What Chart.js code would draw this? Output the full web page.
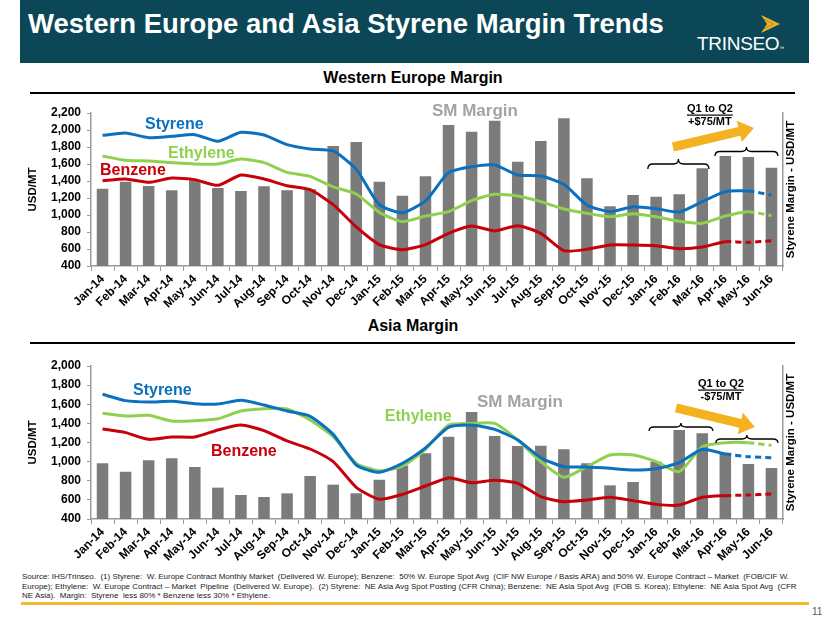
<!DOCTYPE html>
<html>
<head>
<meta charset="utf-8">
<script src="https://cdn.jsdelivr.net/npm/chart.js@4.4.1/dist/chart.umd.min.js"></script>
<style>
  body { margin: 0; width: 830px; height: 623px; background: #fff; position: relative; overflow: hidden;
         font-family: 'Liberation Sans', Arial, sans-serif; }
  .titlebar { position: absolute; left: 20px; top: 0; width: 789px; height: 63px; background: #0b4756; }
  .titlebar h1 { position: absolute; left: 8px; top: 8.5px; margin: 0; font-size: 27.5px; line-height: 30px;
                 font-weight: bold; color: #fff; white-space: nowrap; }
  .logo { position: absolute; left: 677px; top: 33px; font-size: 19px; line-height: 22px; color: #fff; letter-spacing: -0.3px; }
  .logo sup { font-size: 5px; vertical-align: 0; }
  .head { position: absolute; left: 0; width: 826px; text-align: center; font-size: 16px; line-height: 18px;
          font-weight: bold; color: #000; }
  .rule { position: absolute; left: 30px; width: 765px; height: 2px; background: #000; }
  canvas { position: absolute; left: 0; }
  .foot { position: absolute; left: 22px; top: 572px; font-size: 8px; line-height: 9.5px; color: #222; white-space: nowrap; }
  .orange { position: absolute; left: 21px; top: 602px; width: 788px; height: 2.5px; background: #f5b82e; }
  .pg { position: absolute; left: 812px; top: 606px; font-size: 10px; color: #595959; }
</style>
</head>
<body>
<div class="titlebar">
  <h1>Western Europe and Asia Styrene Margin Trends</h1>
  <svg style="position:absolute; left:740px; top:14px" width="22" height="20">
    <polygon points="1,1 20,10 1,19 7,10" fill="#e9b42b"/>
    <polyline points="4,5 13,10 4,15" fill="none" stroke="#b98a17" stroke-width="1"/>
  </svg>
  <div class="logo">TRINSEO<sup>™</sup></div>
</div>
<div class="head" style="top:69px">Western Europe Margin</div>
<div class="rule" style="top:92px"></div>
<canvas id="weChart" width="830" height="215" style="top:100px"></canvas>
<div class="head" style="top:317px">Asia Margin</div>
<div class="rule" style="top:342px"></div>
<canvas id="asiaChart" width="830" height="218" style="top:350px"></canvas>
<div class="foot">
Source: IHS/Trinseo.&nbsp; (1) Styrene:&nbsp; W. Europe Contract Monthly Market&nbsp; (Delivered W. Europe); Benzene:&nbsp; 50% W. Europe Spot Avg&nbsp; (CIF NW Europe / Basis ARA) and 50% W. Europe Contract – Market&nbsp; (FOB/CIF W.<br>
Europe); Ethylene:&nbsp; W. Europe Contract – Market&nbsp; Pipeline&nbsp; (Delivered W. Europe).&nbsp; (2) Styrene:&nbsp; NE Asia Avg Spot Posting (CFR China); Benzene:&nbsp; NE Asia Spot Avg&nbsp; (FOB S. Korea); Ethylene:&nbsp; NE Asia Spot Avg&nbsp; (CFR<br>
NE Asia).&nbsp; Margin:&nbsp; Styrene&nbsp; less 80% * Benzene less 30% * Ethylene.
</div>
<div class="orange"></div>
<div class="pg">11</div>

<script>
// categories
const months = ['Jan-14','Feb-14','Mar-14','Apr-14','May-14','Jun-14','Jul-14','Aug-14','Sep-14','Oct-14','Nov-14','Dec-14',
                'Jan-15','Feb-15','Mar-15','Apr-15','May-15','Jun-15','Jul-15','Aug-15','Sep-15','Oct-15','Nov-15','Dec-15',
                'Jan-16','Feb-16','Mar-16','Apr-16','May-16','Jun-16'];

// Western Europe (USD/MT)
const weMargin   = [1310,1390,1341,1290,1410,1317,1282,1337,1290,1302,1812,1859,1390,1227,1455,2059,1980,2109,1627,1871,2137,1432,1102,1235,1216,1243,1549,1694,1682,1557];
const weStyrene  = [1937,1965,1910,1926,1945,1867,1973,1941,1828,1777,1753,1537,1122,1027,1165,1498,1568,1588,1471,1459,1361,1118,1039,1098,1075,1035,1157,1275,1282,1235];
const weEthylene = [1694,1643,1635,1616,1600,1600,1659,1616,1502,1455,1330,1247,1031,922,988,1039,1169,1243,1224,1157,1071,1020,980,1016,980,926,902,988,1039,992];
const weBenzene  = [1404,1424,1384,1435,1416,1349,1471,1424,1345,1298,1122,859,651,592,651,784,870,812,874,784,580,596,647,647,639,604,624,686,678,698];

// Asia (USD/MT)
const asiaMargin   = [982,895,1014,1034,944,728,651,630,668,850,759,668,811,960,1087,1261,1519,1268,1163,1167,1129,982,752,787,1000,1331,1296,1094,975,933];
const asiaStyrene  = [1704,1638,1624,1631,1606,1603,1641,1592,1529,1474,1285,965,888,982,1143,1359,1383,1338,1226,1041,947,944,930,912,926,989,1129,1080,1052,1041];
const asiaEthylene = [1505,1477,1484,1425,1428,1449,1529,1554,1550,1435,1261,982,905,954,1129,1383,1400,1400,1226,1000,836,947,1069,1069,1000,895,1156,1198,1198,1170];
const asiaBenzene  = [1341,1303,1233,1258,1258,1331,1383,1324,1216,1132,1000,731,606,658,745,830,780,804,773,634,581,599,627,592,553,546,627,644,651,661];

// y ticks
const weTicks   = { min: 400, max: 2200, step: 200 };
const asiaTicks = { min: 400, max: 2000, step: 200 };

const BLUE = '#0a70c0', GREEN = '#8fd14f', RED = '#c8000a', BAR = '#7b7b7b', LABEL_GRAY = '#a3a3a3';
const AXIS = '#9a9a9a';
const FONT = "'Liberation Sans', Arial, sans-serif";

Chart.defaults.font.family = FONT;
Chart.defaults.color = '#000';

// draws series labels, braces, arrows and the right axis title
function makeNotes(items) {
    return {
        id: 'notes',
        afterDatasetsDraw(chart) {
            const ctx = chart.ctx;
            const x = chart.scales.x, y = chart.scales.y, y1 = chart.scales.y1;
            const X = i => x.getPixelForValue(i);
            const Y = v => y.getPixelForValue(v);
            ctx.save();
            items.forEach(it => {
                if (it.type === 'text') {
                    ctx.font = 'bold ' + it.size + 'px ' + FONT;
                    ctx.fillStyle = it.color;
                    ctx.textAlign = it.align || 'left';
                    ctx.textBaseline = 'middle';
                    ctx.fillText(it.text, X(it.i), Y(it.v));
                    if (it.underline) {
                        const w = ctx.measureText(it.text).width;
                        const x0 = it.align === 'center' ? X(it.i) - w / 2 : X(it.i);
                        ctx.fillRect(x0, Y(it.v) + it.size / 2, w, 1.2);
                    }
                } else if (it.type === 'arrow') {
                    const x0 = X(it.from[0]), y0 = Y(it.from[1]);
                    const x1 = X(it.to[0]), y1p = Y(it.to[1]);
                    const ang = Math.atan2(y1p - y0, x1 - x0);
                    const len = Math.hypot(x1 - x0, y1p - y0);
                    ctx.translate(x0, y0);
                    ctx.rotate(ang);
                    ctx.fillStyle = '#f4b120';
                    ctx.beginPath();
                    ctx.moveTo(0, -4.5);
                    ctx.lineTo(len - 15, -4.5);
                    ctx.lineTo(len - 15, -11);
                    ctx.lineTo(len, 0);
                    ctx.lineTo(len - 15, 11);
                    ctx.lineTo(len - 15, 4.5);
                    ctx.lineTo(0, 4.5);
                    ctx.closePath();
                    ctx.fill();
                    ctx.setTransform(1, 0, 0, 1, 0, 0);
                } else if (it.type === 'brace') {
                    const xa = X(it.i0), xb = X(it.i1), xm = (xa + xb) / 2;
                    const yt = Y(it.vTip), yb = Y(it.vBase), ym = (yt + yb) / 2;
                    const r = 5;
                    ctx.strokeStyle = '#000';
                    ctx.lineWidth = 1.3;
                    ctx.beginPath();
                    ctx.moveTo(xa, yb);
                    ctx.quadraticCurveTo(xa, ym, xa + r, ym);
                    ctx.lineTo(xm - r, ym);
                    ctx.quadraticCurveTo(xm, ym, xm, yt);
                    ctx.quadraticCurveTo(xm, ym, xm + r, ym);
                    ctx.lineTo(xb - r, ym);
                    ctx.quadraticCurveTo(xb, ym, xb, yb);
                    ctx.stroke();
                }
            });
            // right axis title, reading bottom to top
            ctx.font = 'bold 11.5px ' + FONT;
            ctx.fillStyle = '#000';
            ctx.textAlign = 'center';
            ctx.textBaseline = 'middle';
            ctx.translate(y1.left + 8, (chart.chartArea.top + chart.chartArea.bottom) / 2);
            ctx.rotate(-Math.PI / 2);
            ctx.fillText('Styrene Margin - USD/MT', 0, 0);
            ctx.restore();
        }
    };
}

function makeChart(id, margin, styrene, ethylene, benzene, ticks, dashFrom, padTop, notes) {
    const dash = from => ({ borderDash: c => c.p0DataIndex >= from ? [6, 4] : undefined });
    const line = (label, data, color, from) => ({
        type: 'line', label: label, data: data, borderColor: color, backgroundColor: color,
        borderWidth: 3, pointRadius: 0, tension: 0.2, order: 1, yAxisID: 'y', segment: dash(from)
    });
    new Chart(document.getElementById(id), {
        data: {
            labels: months,
            datasets: [
                line('Styrene', styrene, BLUE, dashFrom[0]),
                line('Ethylene', ethylene, GREEN, dashFrom[1]),
                line('Benzene', benzene, RED, dashFrom[2]),
                { type: 'bar', label: 'SM Margin', data: margin, backgroundColor: BAR, order: 2, yAxisID: 'y1',
                  barPercentage: 0.5, categoryPercentage: 1 }
            ]
        },
        options: {
            responsive: false,
            animation: false,
            layout: { padding: { left: 26, right: 27, top: padTop, bottom: 4 } },
            plugins: { legend: { display: false }, tooltip: { enabled: false } },
            scales: {
                x: {
                    offset: true,
                    grid: { display: true, offset: true, drawOnChartArea: false, tickLength: 5, color: AXIS },
                    border: { color: AXIS, width: 1.5 },
                    ticks: { autoSkip: false, minRotation: 45, maxRotation: 45, padding: 1,
                             font: { size: 12, weight: 'bold' } },
                    afterFit: s => { s.height = 45; }
                },
                y: {
                    min: ticks.min, max: ticks.max,
                    grid: { display: true, drawOnChartArea: false, tickLength: 4, color: AXIS },
                    border: { color: AXIS, width: 1.5 },
                    ticks: { stepSize: ticks.step, autoSkip: false, padding: 6,
                             font: { size: 12, weight: 'bold', lineHeight: 1 },
                             callback: v => v.toLocaleString('en-US') },
                    title: { display: true, text: 'USD/MT', font: { size: 11.5, weight: 'bold' }, padding: { top: 0, bottom: 4 } },
                    afterFit: s => { s.width = 65; }
                },
                y1: {
                    position: 'right',
                    min: ticks.min, max: ticks.max,
                    grid: { display: false, drawOnChartArea: false, drawTicks: false },
                    border: { color: AXIS, width: 1.5 },
                    ticks: { display: false },
                    afterFit: s => { s.width = 20; }
                }
            }
        },
        plugins: [makeNotes(notes)]
    });
}

makeChart('weChart', weMargin, weStyrene, weEthylene, weBenzene, weTicks, [28, 28, 27], 13, [
    { type: 'text', text: 'Styrene', i: 1.84, v: 2059, size: 16, color: BLUE },
    { type: 'text', text: 'Ethylene', i: 2.84, v: 1718, size: 16, color: GREEN },
    { type: 'text', text: 'Benzene', i: -0.11, v: 1518, size: 16, color: RED },
    { type: 'text', text: 'SM Margin', i: 14.28, v: 2224, size: 17, color: LABEL_GRAY },
    { type: 'text', text: 'Q1 to Q2', i: 26.33, v: 2247, size: 11, color: '#000', align: 'center', underline: true },
    { type: 'text', text: '+$75/MT', i: 26.33, v: 2094, size: 11, color: '#000', align: 'center' },
    { type: 'arrow', from: [24.73, 1800], to: [28.24, 2024] },
    { type: 'brace', i0: 23.64, i1: 26.29, vTip: 1659, vBase: 1541 },
    { type: 'brace', i0: 26.55, i1: 29.28, vTip: 1800, vBase: 1694 }
]);

makeChart('asiaChart', asiaMargin, asiaStyrene, asiaEthylene, asiaBenzene, asiaTicks, [27, 28, 27], 16, [
    { type: 'text', text: 'Styrene', i: 1.32, v: 1739, size: 16, color: BLUE },
    { type: 'text', text: 'Benzene', i: 4.70, v: 1101, size: 16, color: RED },
    { type: 'text', text: 'Ethylene', i: 12.24, v: 1467, size: 16, color: GREEN },
    { type: 'text', text: 'SM Margin', i: 16.23, v: 1624, size: 17, color: LABEL_GRAY },
    { type: 'text', text: 'Q1 to Q2', i: 26.81, v: 1812, size: 11, color: '#000', align: 'center', underline: true },
    { type: 'text', text: '-$75/MT', i: 26.81, v: 1676, size: 11, color: '#000', align: 'center' },
    { type: 'arrow', from: [24.86, 1561], to: [28.28, 1362] },
    { type: 'brace', i0: 23.69, i1: 26.46, vTip: 1404, vBase: 1320 },
    { type: 'brace', i0: 26.59, i1: 29.28, vTip: 1278, vBase: 1195 }
]);
</script>
</body>
</html>
